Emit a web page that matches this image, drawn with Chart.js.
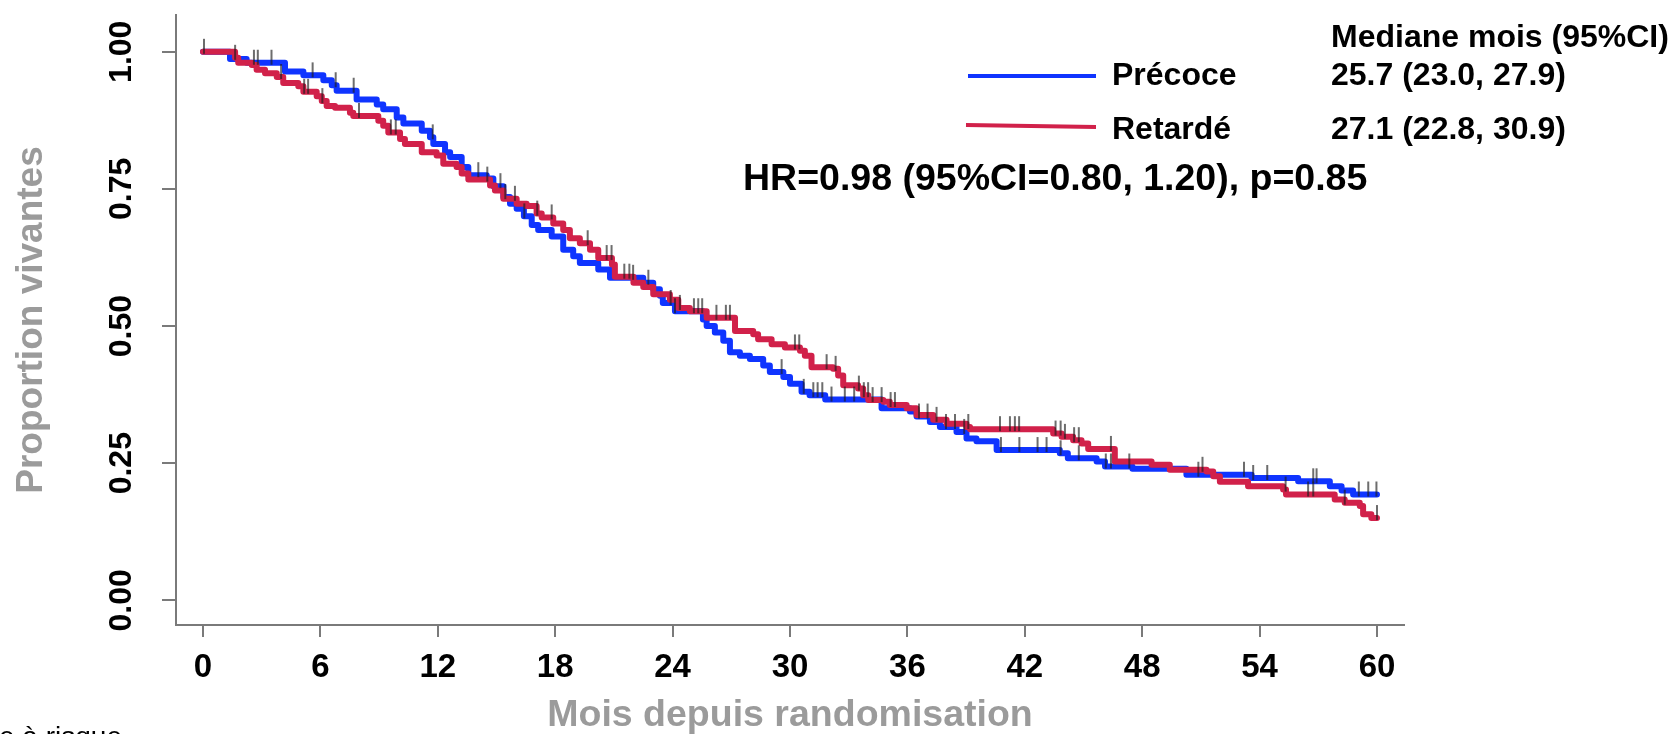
<!DOCTYPE html>
<html>
<head>
<meta charset="utf-8">
<title>Survie globale</title>
<script src="https://cdn.jsdelivr.net/npm/chart.js@4.4.1/dist/chart.umd.min.js"></script>
<style>
  html, body { margin: 0; padding: 0; background: #fff; }
  #km { display: block; }
</style>
</head>
<body>
<canvas id="km" width="1672" height="734"></canvas>
<script>
"use strict";

var xTicks = [0, 6, 12, 18, 24, 30, 36, 42, 48, 54, 60];
var yTicks = [0, 0.25, 0.5, 0.75, 1];

// Précoce (blue) - time of each drop, survival after the drop
var precoceTimes = [0, 1.38, 2.23, 4.19, 5.13, 6.15, 6.58, 6.83, 7.85, 8.88, 9.21, 9.9, 10.24, 11.18, 11.6, 11.77, 12.37, 12.63, 13.22, 13.56, 14.5, 14.84, 15.35, 15.69, 16.03, 16.4, 16.8, 17.13, 17.82, 18.41, 18.92, 19.26, 20.2, 20.8, 22.5, 23.01, 23.35, 23.5, 24.12, 25.55, 25.74, 26.16, 26.59, 26.93, 27.44, 27.95, 28.63, 28.97, 29.66, 30.0, 30.59, 31.0, 31.8, 34.68, 36.13, 36.47, 37.15, 37.66, 38.51, 39.02, 39.53, 40.56, 43.79, 44.2, 45.67, 46.1, 47.5, 50.26, 53.59, 55.97, 57.59, 58.19, 58.78, 60];
var precoceSurv = [1, 0.987, 0.98, 0.964, 0.957, 0.948, 0.939, 0.929, 0.913, 0.904, 0.895, 0.88, 0.869, 0.856, 0.844, 0.832, 0.817, 0.808, 0.79, 0.775, 0.769, 0.755, 0.735, 0.723, 0.714, 0.7, 0.684, 0.675, 0.663, 0.639, 0.627, 0.615, 0.603, 0.588, 0.579, 0.567, 0.555, 0.542, 0.527, 0.512, 0.5, 0.488, 0.473, 0.452, 0.446, 0.44, 0.428, 0.416, 0.407, 0.395, 0.38, 0.374, 0.366, 0.35, 0.344, 0.335, 0.325, 0.316, 0.307, 0.295, 0.29, 0.274, 0.268, 0.259, 0.253, 0.244, 0.24, 0.229, 0.223, 0.217, 0.208, 0.2, 0.193, 0.193];

// Retardé (red)
var retardeTimes = [0, 1.64, 1.8, 2.49, 2.74, 3.17, 3.77, 4.1, 4.87, 5.13, 5.81, 6.07, 6.32, 6.75, 7.51, 7.68, 8.96, 9.21, 9.47, 10.07, 10.32, 11.18, 11.94, 12.28, 12.96, 13.22, 13.56, 14.67, 14.92, 15.35, 16.03, 16.54, 17.05, 17.31, 17.9, 18.41, 18.75, 19.26, 19.78, 20.2, 20.9, 21.05, 22.0, 22.5, 23.01, 23.86, 24.29, 24.88, 25.74, 27.19, 28.12, 28.37, 29.06, 29.74, 30.51, 30.76, 31.1, 32.2, 32.46, 32.72, 33.48, 33.74, 34.0, 34.77, 35.1, 35.96, 36.47, 37.32, 38.0, 39.02, 39.2, 43.45, 43.88, 44.47, 44.9, 45.24, 46.6, 48.48, 49.41, 51.29, 51.63, 51.97, 53.41, 55.2, 55.35, 57.84, 58.35, 59.12, 59.29, 59.71, 60];
var retardeSurv = [1, 0.989, 0.98, 0.976, 0.967, 0.961, 0.954, 0.943, 0.937, 0.927, 0.919, 0.91, 0.901, 0.898, 0.889, 0.883, 0.874, 0.865, 0.853, 0.841, 0.832, 0.817, 0.811, 0.796, 0.79, 0.778, 0.767, 0.756, 0.747, 0.732, 0.723, 0.719, 0.705, 0.698, 0.687, 0.675, 0.66, 0.651, 0.639, 0.624, 0.612, 0.59, 0.579, 0.571, 0.558, 0.548, 0.533, 0.527, 0.515, 0.491, 0.485, 0.476, 0.467, 0.461, 0.455, 0.446, 0.425, 0.422, 0.41, 0.392, 0.386, 0.374, 0.365, 0.362, 0.356, 0.35, 0.338, 0.329, 0.322, 0.316, 0.312, 0.304, 0.298, 0.292, 0.286, 0.276, 0.253, 0.247, 0.238, 0.235, 0.226, 0.216, 0.208, 0.202, 0.193, 0.184, 0.178, 0.172, 0.157, 0.15, 0.15];

// censoring times
var precoceCensor = [0.05, 2.6, 2.8, 3.5, 5.6, 6.78, 7.7, 11.74, 14.07, 15.2, 15.45, 16.42, 21.98, 22.76, 23.9, 24.12, 25.09, 25.31, 29.57, 30.7, 31.19, 31.41, 31.65, 32.12, 32.8, 33.28, 36.59, 37.03, 37.97, 38.43, 38.9, 40.78, 41.72, 42.65, 43.11, 43.83, 44.76, 46.14, 46.4, 47.34, 50.87, 53.2, 53.67, 54.39, 56.74, 56.91, 59.07, 59.55, 59.97];
var retardeCensor = [1.64, 3.99, 5.17, 5.37, 6.1, 7.97, 9.6, 9.85, 14.53, 15.94, 17.08, 17.82, 19.66, 20.63, 20.88, 21.53, 21.79, 24.37, 25.51, 26.24, 26.72, 26.93, 30.25, 30.47, 31.87, 32.33, 33.52, 33.77, 33.99, 34.22, 34.68, 35.14, 35.36, 37.49, 39.11, 40.73, 41.24, 41.49, 41.71, 43.57, 43.83, 44.05, 44.52, 44.76, 46.4, 51.08, 55.33, 56.48, 56.74, 58.35, 60];

var groupNames = ["Précoce", "Retardé"];
var medianText = ["25.7 (23.0, 27.9)", "27.1 (22.8, 30.9)"];
var medianHeader = "Mediane mois (95%CI)";
var hrText = "HR=0.98 (95%CI=0.80, 1.20), p=0.85";

var BLUE = "#0f34ff";
var RED = "#d1214a";
var AXIS = "#7a7a7a";
var FONT = "'Liberation Sans', Arial, Helvetica, sans-serif";

function toPoints(times, surv) {
  return times.map(function (t, i) { return { x: t, y: surv[i] }; });
}

// KM value at time t (step lookup)
function survAt(times, surv, t) {
  var s = surv[0];
  for (var i = 0; i < times.length; i++) {
    if (times[i] <= t) s = surv[i];
  }
  return s;
}

function censorPoints(censor, times, surv) {
  return censor.map(function (t) { return { x: t, y: survAt(times, surv, t) }; });
}

// little "|" mark sitting on top of the curve
function censorMark() {
  var c = document.createElement("canvas");
  c.width = 4;
  c.height = 28;
  var g = c.getContext("2d");
  g.strokeStyle = "#1e1e1e";
  g.lineWidth = 1.3;
  g.beginPath();
  g.moveTo(2, 1);
  g.lineTo(2, 16);
  g.stroke();
  return c;
}

var legendPlugin = {
  id: "kmLegend",
  afterDraw: function (chart) {
    var ctx = chart.ctx;
    ctx.save();
    ctx.lineCap = "butt";
    ctx.lineWidth = 4;
    ctx.strokeStyle = BLUE;
    ctx.beginPath();
    ctx.moveTo(968, 76);
    ctx.lineTo(1096, 76);
    ctx.stroke();
    ctx.strokeStyle = RED;
    ctx.beginPath();
    ctx.moveTo(966, 125);
    ctx.lineTo(1096, 127);
    ctx.stroke();

    ctx.fillStyle = "#000";
    ctx.textBaseline = "middle";
    ctx.textAlign = "left";
    ctx.font = "bold 32px " + FONT;
    ctx.fillText(medianHeader, 1331, 38);
    ctx.fillText(groupNames[0], 1112, 76);
    ctx.fillText(medianText[0], 1331, 76);
    ctx.fillText(groupNames[1], 1112, 130);
    ctx.fillText(medianText[1], 1331, 130);
    ctx.font = "bold 37.5px " + FONT;
    ctx.fillText(hrText, 743, 180);

    ctx.font = "28px " + FONT;
    ctx.textBaseline = "alphabetic";
    ctx.fillText("e à risque", -1, 746);
    ctx.restore();
  },
};

function initChart() {
  var mark = censorMark();
  new Chart(document.getElementById("km"), {
    type: "line",
    data: {
      datasets: [
        {
          label: "censor " + groupNames[0],
          data: censorPoints(precoceCensor, precoceTimes, precoceSurv),
          showLine: false,
          pointStyle: mark,
          pointRadius: 14,
        },
        {
          label: "censor " + groupNames[1],
          data: censorPoints(retardeCensor, retardeTimes, retardeSurv),
          showLine: false,
          pointStyle: mark,
          pointRadius: 14,
        },
        {
          label: groupNames[1],
          data: toPoints(retardeTimes, retardeSurv),
          stepped: true,
          borderColor: RED,
          borderWidth: 6,
          borderJoinStyle: "round",
          borderCapStyle: "round",
          pointRadius: 0,
          fill: false,
        },
        {
          label: groupNames[0],
          data: toPoints(precoceTimes, precoceSurv),
          stepped: true,
          borderColor: BLUE,
          borderWidth: 6,
          borderJoinStyle: "round",
          borderCapStyle: "round",
          pointRadius: 0,
          fill: false,
        },
      ],
    },
    options: {
      responsive: false,
      animation: false,
      layout: { padding: { left: 0, right: 268, top: 10, bottom: 0 } },
      plugins: {
        legend: { display: false },
        tooltip: { enabled: false },
      },
      scales: {
        x: {
          type: "linear",
          min: -1.38,
          max: 61.38,
          afterBuildTicks: function (scale) {
            scale.ticks = xTicks.map(function (v) { return { value: v }; });
          },
          afterFit: function (scale) {
            scale.height = 109;
            scale.paddingLeft = 0;
            scale.paddingRight = 0;
          },
          ticks: {
            color: "#000",
            font: { family: FONT, size: 33, weight: "bold" },
            padding: 11,
            maxRotation: 0,
            autoSkip: false,
          },
          grid: { drawOnChartArea: false, drawTicks: true, tickLength: 12, color: AXIS, lineWidth: 2 },
          border: { display: true, color: AXIS, width: 2 },
          title: {
            display: true,
            text: "Mois depuis randomisation",
            color: "#9b9b9b",
            font: { family: FONT, size: 37.5, weight: "bold", lineHeight: 1 },
            padding: { top: 0, bottom: 0 },
          },
        },
        y: {
          type: "linear",
          min: -0.045,
          max: 1.067,
          afterBuildTicks: function (scale) {
            scale.ticks = yTicks.map(function (v) { return { value: v }; });
          },
          afterFit: function (scale) {
            scale.width = 176;
            scale.paddingTop = 0;
            scale.paddingBottom = 0;
          },
          ticks: {
            color: "#000",
            font: { family: FONT, size: 32, weight: "bold" },
            minRotation: 90,
            maxRotation: 90,
            crossAlign: "center",
            padding: 9,
            callback: function (v) { return Number(v).toFixed(2); },
          },
          grid: { drawOnChartArea: false, drawTicks: true, tickLength: 14, color: AXIS, lineWidth: 2 },
          border: { display: true, color: AXIS, width: 2 },
          title: {
            display: true,
            text: "Proportion vivantes",
            color: "#9b9b9b",
            font: { family: FONT, size: 37, weight: "bold", lineHeight: 1.2 },
            padding: { top: 10, bottom: 0 },
          },
        },
      },
    },
    plugins: [legendPlugin],
  });
}

initChart();
</script>
</body>
</html>
